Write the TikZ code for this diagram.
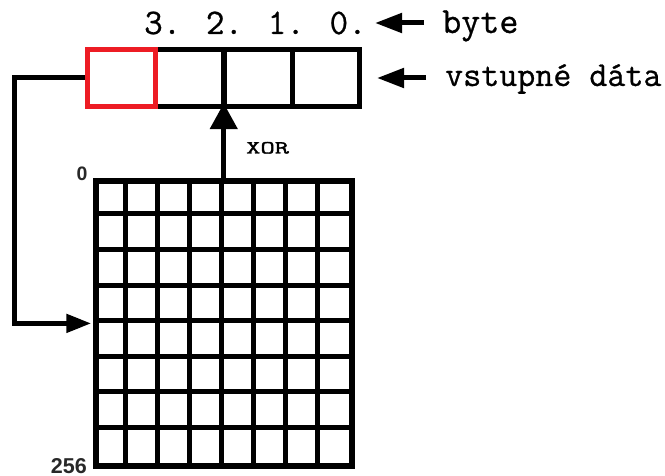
\documentclass[tikz,border=0pt]{standalone}
\usepackage{fontspec}
\setmainfont{Liberation Sans}
\newfontfamily\monof[FakeBold=0.7]{Latin Modern Mono}
\newfontfamily\xorf[FakeBold=1.5]{Latin Modern Mono}
\usetikzlibrary{arrows.meta,calc}
\begin{document}
\begin{tikzpicture}[x=1pt,y=-1pt,
  cell/.style={draw=black,line width=5pt,minimum width=68pt,minimum height=57.5pt,inner sep=0pt,outer sep=0pt},
  redcell/.style={cell,draw={rgb,255:red,237;green,28;blue,36}},
  conn/.style={line width=5pt,draw=black},
  bigtip/.style={-{Triangle[length=27pt,width=19pt]}},
  montxt/.style={inner sep=0pt,anchor=base west,font=\monof\fontsize{36}{40}\selectfont},
  gridlbl/.style={inner sep=0pt,font=\bfseries\fontsize{19.5}{22}\selectfont,text={rgb,255:red,40;green,40;blue,40}},
  gline/.style={line width=5pt,draw=black}
]
\useasboundingbox (0,0) rectangle (665,476);
% input data boxes
\node[cell] (b2) at (189.75,78) {};
\node[cell] (b1) at (258,78) {};
\node[cell,minimum width=67pt] (b0) at (325.5,78) {};
\node[redcell] (b3) at (121.5,78) {};
% memory grid
\node[draw=black,line width=5.5pt,minimum width=256pt,minimum height=284.8pt,inner sep=0pt] (mem) at (224,323.4) {};
\foreach \i in {1,...,7}{
  \draw[gline] ($(mem.north west)+(32*\i,0)$) -- ($(mem.south west)+(32*\i,0)$);
  \draw[gline] ($(mem.north west)+(0,35.6*\i)$) -- ($(mem.north east)+(0,35.6*\i)$);
}
% labels
\node[montxt] (digits) at (144,34) {3. 2. 1. 0.};
\node[montxt,font=\monof\fontsize{37}{40}\selectfont] (byte) at (442,33) {byte};
\node[montxt,font=\monof\fontsize{35}{40}\selectfont] (vst) at (445,86) {vstupné dáta};
\node[gridlbl] (zero) at (82,174) {0};
\node[gridlbl,anchor=base east,font=\bfseries\fontsize{21.5}{24}\selectfont] (n256) at (87,473) {256};
\node[inner sep=0pt,anchor=base west,font=\xorf\fontsize{18.5}{20}\selectfont] (xor) at (246,153.5) {\scalebox{1.5}[1]{XOR}};
% connectors
\coordinate (byteTail) at (424,23);
\coordinate (byteTip) at (375,23);
\coordinate (vstTail) at (426,78);
\coordinate (vstTip) at (377,78);
\draw[conn,bigtip] (byteTail) -- (byteTip);
\draw[conn,bigtip] (vstTail) -- (vstTip);
\draw[conn,-{Triangle[length=26pt,width=27pt]},shorten >=-3.5pt] (mem.north -| b2.south east) -- (b2.south east);
\coordinate (corner) at (14,200);
\draw[conn,-{Triangle[length=25pt,width=18pt]},shorten >=2pt] (b3.west) ++(-2.5,0) -| (corner) |- (mem.west);
\end{tikzpicture}
\end{document}
